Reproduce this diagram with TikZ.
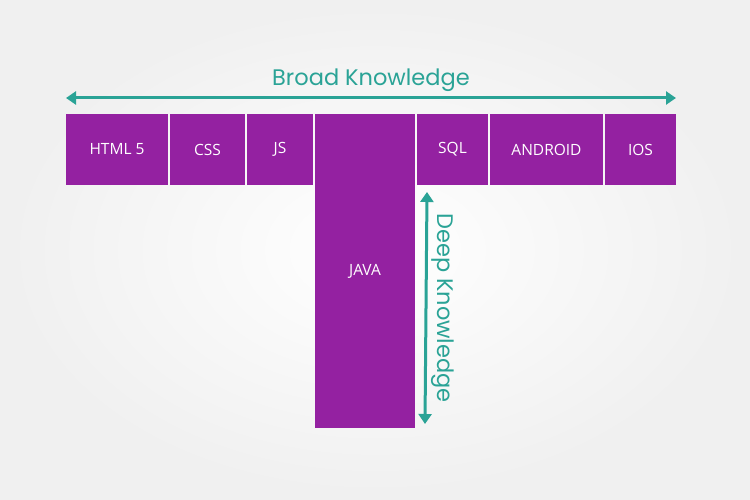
\documentclass[tikz,border=0pt]{standalone}
\usepackage{fontspec}
\setmainfont{Open Sans}
\newfontfamily\headfont{Poppins}
\usetikzlibrary{positioning, arrows.meta, calc}
\definecolor{skill}{HTML}{9421A1}
\definecolor{teal}{HTML}{2AA396}

\begin{document}
\begin{tikzpicture}[x=1pt, y=-1pt, node distance=2pt]
        \tikzstyle{box} = [rectangle, minimum height=71pt, inner sep=0pt, outer sep=0pt, text centered, fill=skill, text=white, font=\fontsize{15.5}{18}\selectfont]
        \tikzstyle{span} = [draw=teal, line width=3pt, {Triangle[length=10pt,width=13pt]}-{Triangle[length=10pt,width=13pt]}]
        \tikzstyle{title} = [text=teal, font=\headfont\fontsize{22.5}{26}\selectfont]
        % background
        \shade[inner color=white, outer color=black!6] (0,0) rectangle (750,500);
        \useasboundingbox (0,0) rectangle (750,500);
        % top row
        \node (html) [box, minimum width=102pt, anchor=north west] at (66,114) {HTML 5};
        \node (css) [box, minimum width=75pt, right=of html] {CSS};
        \node (js) [box, minimum width=66pt, right=of css] {JS};
        \node (java) [box, minimum width=100pt, minimum height=314pt, anchor=north west] at ([xshift=2pt]js.north east) {JAVA};
        \node (sql) [box, minimum width=71pt, anchor=north west] at ([xshift=2pt]java.north east) {SQL};
        \node (android) [box, minimum width=113pt, right=of sql] {ANDROID};
        \node (ios) [box, minimum width=71pt, right=of android] {IOS};
        % arrows
        \coordinate (bleft) at ([yshift=16pt]html.north west);
        \coordinate (bright) at ([yshift=16pt]ios.north east);
        \draw [span] (bleft) -- (bright);
        \node (broad) [title] at ([yshift=18pt]$(bleft)!0.5!(bright)$) {Broad Knowledge};
        \coordinate (dtop) at ([xshift=10pt, yshift=-7pt]sql.south west);
        \coordinate (dbot) at ([xshift=10pt, yshift=4pt]java.south east);
        \draw [span] (dtop) -- (dbot);
        \node (deep) [title, rotate=-90] at ([xshift=17pt]$(dtop)!0.5!(dbot)$) {Deep Knowledge};
    \end{tikzpicture}
\end{document}
